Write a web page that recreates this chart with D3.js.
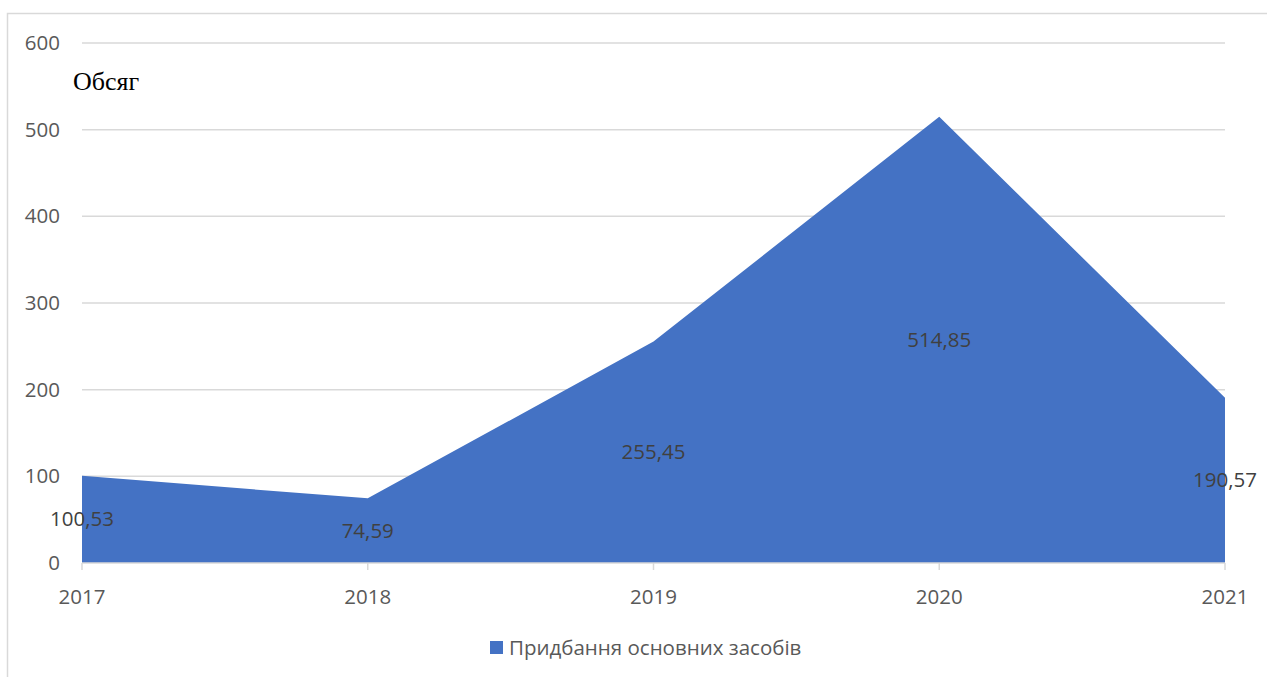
<!DOCTYPE html>
<html><head><meta charset="utf-8">
<script src="https://cdn.jsdelivr.net/npm/d3@7"></script>
<style>body{margin:0;background:#fff}svg{display:block}</style>
</head><body>
<script>
const years = ["2017","2018","2019","2020","2021"];
const values = [100.53, 74.59, 255.45, 514.85, 190.57];
const yTicks = [0,100,200,300,400,500,600];
const seriesName = "Придбання основних засобів";
const axisTitle = "Обсяг";

const W = 1267, H = 677;
const svg = d3.select("body").append("svg").attr("width", W).attr("height", H);
svg.append("rect").attr("x",7.5).attr("y",13.5).attr("width",W+10).attr("height",H+10)
  .attr("fill","#fff").attr("stroke","#d9d9d9").attr("stroke-width",1.5);

const x = d3.scalePoint().domain(years).range([82,1225]);
const y = d3.scaleLinear().domain([0,600]).range([563,43]);
const font = "'Open Sans', 'Liberation Sans', sans-serif";
const fs = 20.5;

// gridlines
svg.append("g").selectAll("line").data(yTicks.filter(d=>d>0)).join("line")
  .attr("x1",82).attr("x2",1225).attr("y1",d=>y(d)).attr("y2",d=>y(d))
  .attr("stroke","#d9d9d9").attr("stroke-width",1.5);

// area
const area = d3.area().x((d,i)=>x(years[i])).y0(y(0)).y1(d=>y(d));
svg.append("path").datum(values).attr("d",area).attr("fill","#4472c4");

// x axis line & ticks
svg.append("line").attr("x1",82).attr("x2",1225).attr("y1",y(0)).attr("y2",y(0))
  .attr("stroke","#d9d9d9").attr("stroke-width",1.5);
svg.append("g").selectAll("line").data(years).join("line")
  .attr("x1",d=>x(d)).attr("x2",d=>x(d)).attr("y1",y(0)).attr("y2",y(0)+7)
  .attr("stroke","#d9d9d9").attr("stroke-width",1.5);

// y tick labels
svg.append("g").selectAll("text").data(yTicks).join("text")
  .attr("x",60).attr("y",d=>y(d)+7).attr("text-anchor","end")
  .attr("font-family",font).attr("font-size",fs).attr("fill","#595959").text(d=>d);

// x tick labels
svg.append("g").selectAll("text").data(years).join("text")
  .attr("x",d=>x(d)).attr("y",604).attr("text-anchor","middle")
  .attr("font-family",font).attr("font-size",fs).attr("fill","#595959").text(d=>d);

// data labels
svg.append("g").selectAll("text").data(values).join("text")
  .attr("x",(d,i)=>x(years[i])).attr("y",d=>y(d/2)+7).attr("text-anchor","middle")
  .attr("font-family",font).attr("font-size",fs).attr("fill","#404040")
  .text(d=>d.toFixed(2).replace(".",","));

// axis title
svg.append("text").attr("x",73).attr("y",90).attr("font-family","'Liberation Serif', 'Times New Roman', serif")
  .attr("font-size",26).attr("fill","#000").text(axisTitle);

// legend
svg.append("rect").attr("x",490).attr("y",641).attr("width",13).attr("height",13).attr("fill","#4472c4");
svg.append("text").attr("x",509).attr("y",655).attr("font-family",font).attr("font-size",fs)
  .attr("fill","#595959").text(seriesName);
</script>
</body></html>
